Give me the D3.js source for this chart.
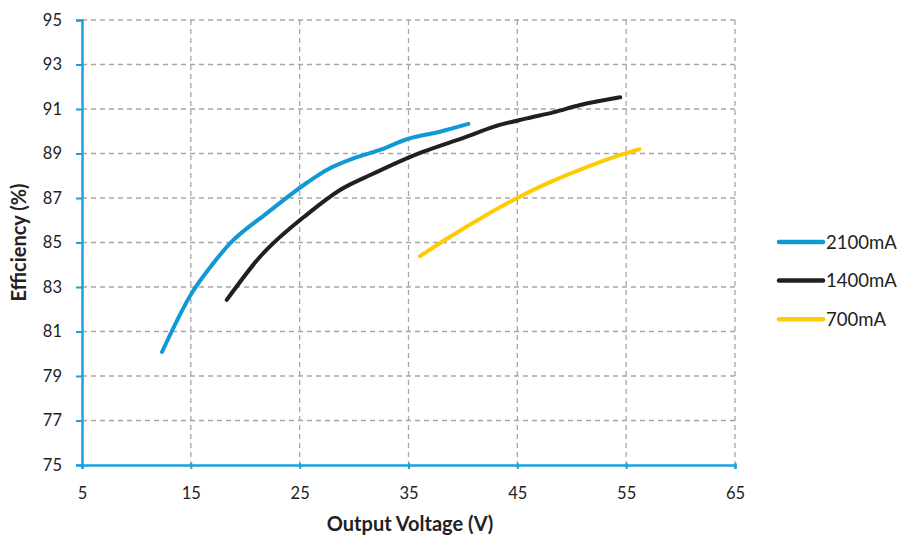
<!DOCTYPE html>
<html>
<head>
<meta charset="utf-8">
<script src="https://cdn.jsdelivr.net/npm/d3@7"></script>
<style>
  body { margin: 0; background: #fff; }
  svg text { font-family: Lato, "Open Sans", sans-serif; fill: #222; }
</style>
</head>
<body>
<svg id="chart"></svg>
<script>
// Data
const seriesNames = ['2100mA', '1400mA', '700mA'];
const seriesColors = ['#1199d6', '#231f20', '#ffcb05'];

const v2100 = [12.35, 15.08, 16.8, 18.6, 21.97, 25.8, 27.49, 29.94, 32.39, 34.84, 37.9, 40.5];
const e2100 = [80.08, 82.72, 83.9, 84.96, 86.31, 87.73, 88.26, 88.78, 89.16, 89.64, 89.98, 90.33];

const v1400 = [18.3, 21.36, 25.8, 28.71, 31.8, 34.84, 36.37, 40.36, 42.8, 45.87, 48.3, 50.77, 54.45];
const e1400 = [82.42, 84.36, 86.31, 87.36, 88.1, 88.78, 89.08, 89.76, 90.2, 90.58, 90.85, 91.18, 91.53];

const v700 = [36.07, 38.82, 41.88, 44.95, 47.1, 51.08, 54.14, 56.22];
const e700 = [84.39, 85.26, 86.16, 86.99, 87.51, 88.33, 88.88, 89.19];

const xTicks = [5, 15, 25, 35, 45, 55, 65];
const yTicks = [75, 77, 79, 81, 83, 85, 87, 89, 91, 93, 95];

const W = 904, H = 541;
const margin = { top: 20, right: 168, bottom: 76, left: 82 };
const width = 735 - margin.left;
const height = 465 - margin.top;

const svg = d3.select('#chart').attr('width', W).attr('height', H);
const chart = svg.append('g').attr('transform', `translate(${margin.left},${margin.top})`);

const x = d3.scaleLinear().domain([5, 65]).range([0, width]);
const y = d3.scaleLinear().domain([75, 95]).range([height, 0]);

// Dashed grid
chart.append('g')
  .selectAll('line')
  .data(yTicks.filter(d => d !== 75))
  .join('line')
  .attr('x1', 0).attr('x2', width)
  .attr('y1', d => y(d)).attr('y2', d => y(d))
  .attr('stroke', '#a6a6a6').attr('stroke-width', 1.3).attr('stroke-dasharray', '5,4');
chart.append('g')
  .selectAll('line')
  .data(xTicks.filter(d => d !== 5))
  .join('line')
  .attr('y1', 0).attr('y2', height)
  .attr('x1', d => x(d)).attr('x2', d => x(d))
  .attr('stroke', '#a6a6a6').attr('stroke-width', 1.3).attr('stroke-dasharray', '5,4');

// Axes
const xAxis = d3.axisBottom(x).tickValues(xTicks).tickSize(4).tickPadding(18);
const yAxis = d3.axisLeft(y).tickValues(yTicks).tickSize(6).tickPadding(14);

const xAxisG = chart.append('g').attr('transform', `translate(0,${height})`).call(xAxis);
const yAxisG = chart.append('g').call(yAxis);

[xAxisG, yAxisG].forEach(g => {
  g.select('.domain').attr('stroke', '#1ba1dc').attr('stroke-width', 2.5);
  g.selectAll('.tick line').attr('stroke', '#1ba1dc').attr('stroke-width', 2);
  g.selectAll('.tick text').style('font-size', '16.5px').style('fill', '#222');
});
// ticks straddle the axis slightly
yAxisG.selectAll('.tick line').attr('x2', -6).attr('x1', 1);
xAxisG.selectAll('.tick line').attr('y1', -2);

// Lines
const series = [
  v2100.map((v, i) => ({ x: v, y: e2100[i] })),
  v1400.map((v, i) => ({ x: v, y: e1400[i] })),
  v700.map((v, i) => ({ x: v, y: e700[i] }))
];

const line = d3.line()
  .x(d => x(d.x))
  .y(d => y(d.y))
  .curve(d3.curveMonotoneX);

chart.selectAll('.series')
  .data(series)
  .join('path')
  .attr('class', 'series')
  .attr('d', line)
  .attr('fill', 'none')
  .attr('stroke', (d, i) => seriesColors[i])
  .attr('stroke-width', 4)
  .attr('stroke-linecap', 'round')
  .attr('stroke-linejoin', 'round');

// Axis titles
svg.append('text')
  .attr('x', 410)
  .attr('y', 531)
  .attr('text-anchor', 'middle')
  .style('font-size', '20px')
  .style('font-weight', 'bold')
  .text('Output Voltage (V)');

svg.append('text')
  .attr('transform', `translate(26,${margin.top + height / 2}) rotate(-90)`)
  .attr('text-anchor', 'middle')
  .style('font-size', '20px')
  .style('font-weight', 'bold')
  .text('Efficiency (%)');

// Legend
const legend = svg.append('g').attr('transform', 'translate(779,242)');
const items = legend.selectAll('g')
  .data(seriesNames)
  .join('g')
  .attr('transform', (d, i) => `translate(0,${i * 38.6})`);
items.append('line')
  .attr('x1', 0).attr('x2', 44)
  .attr('stroke', (d, i) => seriesColors[i])
  .attr('stroke-width', 4.5)
  .attr('stroke-linecap', 'round');
items.append('text')
  .attr('x', 47)
  .attr('dy', '0.36em')
  .style('font-size', '18.5px')
  .text(d => d);
</script>
</body>
</html>
